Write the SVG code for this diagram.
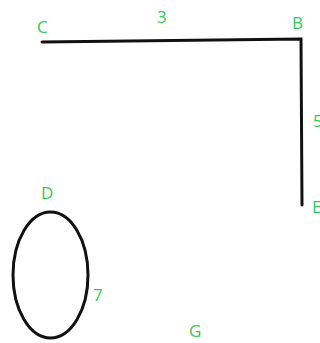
<svg xmlns="http://www.w3.org/2000/svg" width="320" height="343" viewBox="0 0 320 343">
<style>
.lbl{font-family:"Open Sans","Liberation Sans",sans-serif;font-size:17px;fill:#33c95a;}
.edge{stroke:#111;stroke-width:3;fill:none;stroke-linecap:round;}
</style>
<rect width="320" height="343" fill="#fff"/>
<g id="connectors">
<path class="edge" d="M42,42 L301,39 L302,205"/>
<ellipse class="edge" cx="50.5" cy="275" rx="37.5" ry="63"/>
</g>
<g id="node-C"><text class="lbl" x="37" y="33">C</text></g>
<g id="label-3"><text class="lbl" x="157" y="23">3</text></g>
<g id="node-B"><text class="lbl" x="292" y="29">B</text></g>
<g id="label-5"><text class="lbl" x="313" y="127">5</text></g>
<g id="node-E"><text class="lbl" x="312" y="213">E</text></g>
<g id="node-D"><text class="lbl" x="41" y="199">D</text></g>
<g id="label-7"><text class="lbl" x="93" y="301">7</text></g>
<g id="node-G"><text class="lbl" x="189" y="337">G</text></g>
</svg>
